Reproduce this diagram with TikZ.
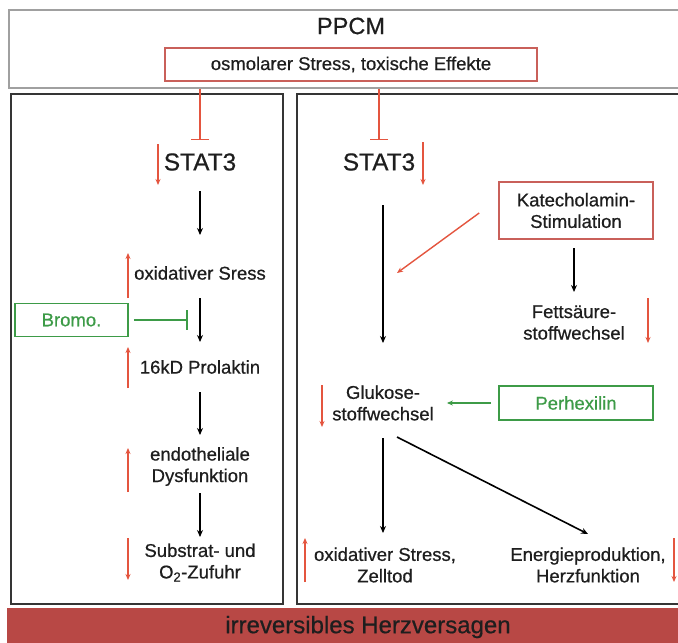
\documentclass[tikz,border=0pt]{standalone}
\usepackage{fontspec}
\setmainfont{Liberation Sans}[BoldFont=Liberation Sans, BoldFeatures={FakeBold=0.6}]
\usetikzlibrary{arrows.meta,calc}
\definecolor{redarr}{HTML}{E4553F}
\definecolor{redbord}{HTML}{C9605A}
\definecolor{grn}{HTML}{3D9B47}
\definecolor{barred}{HTML}{B84845}
\definecolor{textc}{HTML}{1E1E1E}
\definecolor{panelc}{HTML}{353535}
\definecolor{topgray}{HTML}{A0A0A0}
\newcommand\bodyf{\fontsize{18.5}{21.5}\selectfont\bfseries}
\newcommand\bigf{\fontsize{24.4}{27}\selectfont\bfseries}
\tikzset{
  txt/.style={inner sep=0pt, text=textc, font=\bodyf, align=center},
  redbox/.style={draw=redbord, line width=1.6pt, fill=white, inner sep=0pt, text=textc, font=\bodyf, align=center},
  greenbox/.style={draw=grn, line width=1.6pt, fill=white, inner sep=0pt, text=grn, font=\bodyf, align=center},
  panel/.style={draw=panelc, line width=2.4pt, inner sep=0pt},
  blk/.style={draw=black, line width=1.6pt, -{Stealth[length=7pt,width=6pt]}},
  redind/.style={draw=redarr, line width=1.4pt, -{Stealth[length=6pt,width=5pt]}},
  redinh/.style={draw=redarr, line width=1.4pt, -{Bar[width=18pt]}},
  grnarrow/.style={draw=grn, line width=1.6pt, -{Stealth[length=6pt,width=5pt]}},
  grninh/.style={draw=grn, line width=1.6pt, -{Bar[width=20pt]}}
}
\begin{document}
\begin{tikzpicture}[x=1pt,y=-1pt]
\useasboundingbox (0,0) rectangle (678,643);
\clip (0,0) rectangle (678,643);
\fill[white] (0,0) rectangle (678,643);

% top box
\node[draw=topgray, line width=2pt, minimum width=700pt, minimum height=78pt, anchor=north west, inner sep=0pt] (topbox) at (8,9) {};
\node[txt, font=\fontsize{23.5}{26}\selectfont\bfseries] (ppcm) at (351,26) {PPCM};
\node[redbox, minimum width=372pt, minimum height=33pt] (osm) at (351,64.5) {osmolarer Stress, toxische Effekte};

% panels
\node[panel, minimum width=272pt, minimum height=510pt, anchor=north west] (lp) at (10,93) {};
\node[panel, minimum width=420pt, minimum height=510pt, anchor=north west] (rp) at (296,93) {};

% bottom bar
\node[fill=barred, minimum width=700pt, minimum height=50pt, anchor=north west, inner sep=0pt] (bar) at (7,608) {};
\node[inner sep=0pt, text=textc, font=\fontsize{24}{26}\selectfont\bfseries] (irr) at (368,627) {irreversibles Herzversagen};

% left column
\node[txt, font=\bigf] (stat3L) at (200,162) {STAT3};
\node[txt] (oxL) at (200,273) {oxidativer Sress};
\node[txt] (prolL) at (200,367) {16kD Prolaktin};
\node[txt] (endoL) at (200,466.5) {endotheliale\\Dysfunktion};
\node[txt] (subL) at (200,562.5) {Substrat- und\\O\textsubscript{2}-Zufuhr};
\node[greenbox, minimum width=113pt, minimum height=33pt] (bromo) at (71.5,320) {Bromo.};

% right column
\node[txt, font=\bigf] (stat3R) at (379,162) {STAT3};
\node[redbox, minimum width=154pt, minimum height=57pt] (kat) at (576,210.5) {Katecholamin-\\Stimulation};
\node[txt] (fett) at (574,322.5) {Fettsäure-\\stoffwechsel};
\node[txt] (glu) at (383,403) {Glukose-\\stoffwechsel};
\node[greenbox, minimum width=154pt, minimum height=34pt] (perh) at (576,403) {Perhexilin};
\node[txt] (oxR) at (385,565) {oxidativer Stress,\\Zelltod};
\node[txt] (en) at (588,565) {Energieproduktion,\\Herzfunktion};

% inhibitions from top
\draw[redinh, shorten >=22pt] (topbox.south -| stat3L.center) -- (stat3L.center);
\draw[redinh, shorten >=22pt] (topbox.south -| stat3R.center) -- (stat3R.center);

% black arrows left
\draw[blk, shorten <=29pt, shorten >=38pt] (stat3L.center) -- (oxL.center);
\draw[blk, shorten <=25pt, shorten >=25pt] (oxL.center) -- (prolL.center);
\draw[blk, shorten <=25pt, shorten >=31.5pt] (prolL.center) -- (endoL.center);
\draw[blk, shorten <=26.5pt, shorten >=25.5pt] (endoL.center) -- (subL.center);

% bromo inhibition
\draw[grninh, shorten <=5pt, shorten >=12pt] (bromo.east) -- (bromo.east -| oxL.center);

% black arrows right
\draw[blk, shorten <=43pt, shorten >=60pt] (stat3R.center -| glu.center) -- (glu.center);
\draw[blk, shorten <=35pt, shorten >=32pt] (glu.center) -- (glu.center |- oxR.center);
\draw[blk] ($(glu.center)+(14,34)$) -- ($(en.center)+(0,-31)$);
\draw[blk, shorten <=37.5pt, shorten >=30.5pt] (kat.center -| fett.center) -- (fett.center);

% katecholamin red diagonal
\coordinate (katend) at (397,273);
\draw[redind] ($(kat.west)+(-19,2.5)$) -- (katend);

% perhexilin
\draw[grnarrow, shorten <=7pt, shorten >=13pt] (perh.west) -- (perh.west -| glu.east);

% red indicator arrows
\path coordinate (i1a) at (158,144) coordinate (i1b) at (158,185)
      coordinate (i2a) at (128,298) coordinate (i2b) at (128,253)
      coordinate (i3a) at (128,388) coordinate (i3b) at (128,347)
      coordinate (i4a) at (128,492) coordinate (i4b) at (128,448)
      coordinate (i5a) at (128,538) coordinate (i5b) at (128,580)
      coordinate (j1a) at (423,142) coordinate (j1b) at (423,185)
      coordinate (j2a) at (648,298) coordinate (j2b) at (648,343)
      coordinate (j3a) at (322,385) coordinate (j3b) at (322,427)
      coordinate (j4a) at (305,582) coordinate (j4b) at (305,538)
      coordinate (j5a) at (674,538) coordinate (j5b) at (674,582);
\foreach \p in {i1,i2,i3,i4,i5,j1,j2,j3,j4,j5}
  \draw[redind] (\p a) -- (\p b);
\end{tikzpicture}
\end{document}
